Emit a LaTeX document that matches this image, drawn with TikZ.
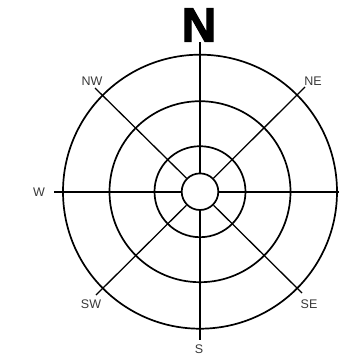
\documentclass[tikz,border=0pt]{standalone}
\usepackage{fontspec}
\setmainfont{Liberation Sans}
\newfontfamily\heavyfont[FakeBold=2.6]{Liberation Sans Bold}
\begin{document}
\begin{tikzpicture}[x=1pt,y=-1pt,
  ring/.style={draw=black,line width=1.7pt},
  spoke/.style={draw=black,line width=1.3pt},
  hspoke/.style={draw=black,line width=2pt},
  lbl/.style={text=black!78,font=\fontsize{12.5}{12.5}\selectfont,inner sep=0pt}]
\useasboundingbox (0,0) rectangle (339,359);
\coordinate (c) at (200,191.7);
\draw[ring] (c) circle[radius=137];
\draw[ring] (c) circle[radius=90.5];
\draw[ring] (c) circle[radius=45.5];
\node[circle,ring,minimum size=36.6pt,inner sep=0pt] (hub) at (c) {};
\coordinate (eN) at (200,42);
\coordinate (eS) at (200,340);
\coordinate (eW) at (54,191.7);
\coordinate (eE) at (339,191.7);
\coordinate (eNW) at (95,88);
\coordinate (eNE) at (305,87);
\coordinate (eSW) at (96,295);
\coordinate (eSE) at (302,293);
\draw[spoke] (hub.north) -- (eN);
\draw[spoke] (hub.south) -- (eS);
\draw[hspoke] (hub.west) -- (eW);
\draw[hspoke] (hub.east) -- (eE);
\draw[spoke] (hub.north west) -- (eNW);
\draw[spoke] (hub.north east) -- (eNE);
\draw[spoke] (hub.south west) -- (eSW);
\draw[spoke] (hub.south east) -- (eSE);
\node[font=\fontsize{48}{48}\selectfont\heavyfont,inner sep=0pt] (lN) at (199,25) {N};
\node[lbl] (lNW) at (92,81) {NW};
\node[lbl] (lNE) at (313,81) {NE};
\node[lbl] (lW) at (39,192) {W};
\node[lbl] (lSW) at (91,304) {SW};
\node[lbl] (lSE) at (309,304) {SE};
\node[lbl] (lS) at (199,349) {S};
\end{tikzpicture}
\end{document}
